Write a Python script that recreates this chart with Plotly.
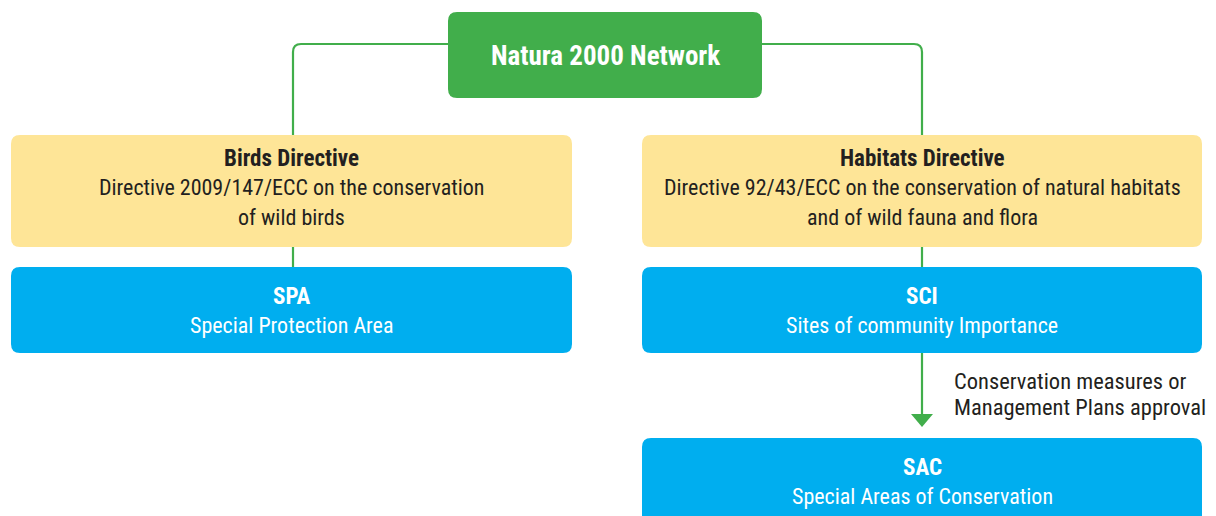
import plotly.graph_objects as go

# ---- content ----
box_titles = ["Natura 2000 Network", "Birds Directive", "Habitats Directive", "SPA", "SCI", "SAC"]
box_lines = [
    [],
    ["Directive 2009/147/ECC on the conservation", "of wild birds"],
    ["Directive 92/43/ECC on the conservation of natural habitats", "and of wild fauna and flora"],
    ["Special Protection Area"],
    ["Sites of community Importance"],
    ["Special Areas of Conservation"],
]
arrow_label = ["Conservation measures or", "Management Plans approval"]

# ---- layout (pixel geometry) ----
box_x0 = [448, 11, 642, 11, 642, 642]
box_x1 = [762, 572, 1202, 572, 1202, 1202]
box_y0 = [12, 135, 135, 267, 267, 438]
box_y1 = [98, 247, 247, 353, 353, 540]
box_fill = ["#41AE4B", "#FEE597", "#FEE597", "#00AEEF", "#00AEEF", "#00AEEF"]
box_text = ["white", "#231F20", "#231F20", "white", "white", "white"]

GREEN = "#41AE4B"
FONT = "Liberation Sans Narrow, Roboto Condensed, Arial Narrow, Roboto, sans-serif"

W, H = 1216, 516
fig = go.Figure()
fig.add_trace(go.Scatter(x=[0, W], y=[0, H], mode="markers", marker=dict(opacity=0), hoverinfo="skip", showlegend=False))

def rrect(x0, y0, x1, y1, r=9):
    return (f"M {x0+r},{y0} L {x1-r},{y0} Q {x1},{y0} {x1},{y0+r} L {x1},{y1-r} "
            f"Q {x1},{y1} {x1-r},{y1} L {x0+r},{y1} Q {x0},{y1} {x0},{y1-r} "
            f"L {x0},{y0+r} Q {x0},{y0} {x0+r},{y0} Z")

shapes = []
line = dict(color=GREEN, width=2.2)
shapes.append(dict(type="path", path="M 448,44 L 301,44 Q 293,44 293,52 L 293,136", line=line, layer="below"))
shapes.append(dict(type="path", path="M 762,44 L 914,44 Q 922,44 922,52 L 922,136", line=line, layer="below"))
shapes.append(dict(type="line", x0=293, x1=293, y0=246, y1=268, line=line, layer="below"))
shapes.append(dict(type="line", x0=922, x1=922, y0=246, y1=268, line=line, layer="below"))
shapes.append(dict(type="line", x0=922, x1=922, y0=353, y1=416, line=line, layer="below"))
shapes.append(dict(type="path", path="M 911,414 L 933,414 L 922,427 Z", fillcolor=GREEN, line=dict(width=0)))

for i in range(len(box_titles)):
    shapes.append(dict(type="path", path=rrect(box_x0[i], box_y0[i], box_x1[i], box_y1[i]),
                       fillcolor=box_fill[i], line=dict(width=0), layer="above"))

annotations = []
REG, BOLD = 22, 23
for i, t in enumerate(box_titles):
    cx = (box_x0[i] + box_x1[i]) / 2
    col = box_text[i]
    if i == 0:
        annotations.append(dict(x=cx, y=56, text=f"<b>{t}</b>", font=dict(size=27, color=col, family=FONT)))
        continue
    ty = 158 if i in (1, 2) else box_y0[i] + 29
    annotations.append(dict(x=cx, y=ty, text=f"<b>{t}</b>", font=dict(size=BOLD, color=col, family=FONT)))
    for k, ln in enumerate(box_lines[i]):
        annotations.append(dict(x=cx, y=ty + 29 + 30 * k, text=ln, font=dict(size=REG, color=col, family=FONT)))

for k, ln in enumerate(arrow_label):
    annotations.append(dict(x=952, y=381 + 26 * k, xanchor="left", text=ln,
                            font=dict(size=22.5, color="#231F20", family=FONT)))
for a in annotations:
    a.update(xref="x", yref="y", showarrow=False)
    a.setdefault("xanchor", "center")
    a.setdefault("yanchor", "middle")

fig.update_layout(
    width=W, height=H, margin=dict(l=0, r=0, t=0, b=0),
    paper_bgcolor="white", plot_bgcolor="white",
    xaxis=dict(range=[0, W], visible=False, fixedrange=True),
    yaxis=dict(range=[H, 0], visible=False, fixedrange=True),
    shapes=shapes, annotations=annotations, showlegend=False,
)
fig.write_html("out.html", config={"displayModeBar": False},
               post_script="document.body.style.margin='0';document.body.style.overflow='hidden';")
